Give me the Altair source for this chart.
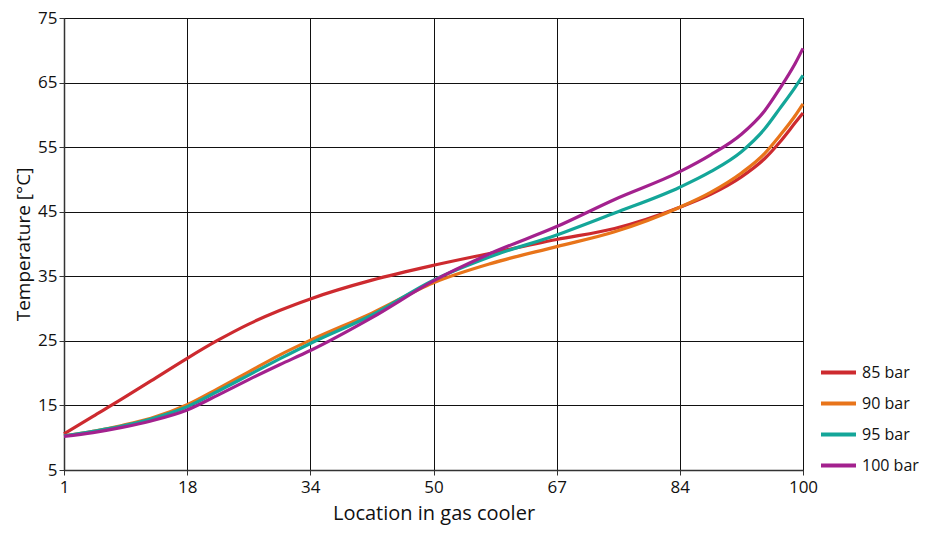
import altair as alt
import pandas as pd

locations = [1, 5, 9, 13, 18, 22, 26, 30, 34, 42, 50, 58, 67, 75, 84, 88, 92, 95, 97, 99, 100]
t85 = [10.6, 13.3, 16.0, 18.8, 22.3, 25.1, 27.6, 29.7, 31.5, 34.4, 36.7, 38.6, 40.7, 42.4, 45.7, 47.7, 50.4, 53.2, 55.8, 58.8, 60.3]
t90 = [10.3, 11.0, 11.9, 13.0, 15.1, 17.6, 20.2, 22.8, 25.1, 29.3, 34.0, 37.0, 39.6, 41.9, 45.7, 48.0, 51.0, 54.0, 56.8, 59.9, 61.7]
t95 = [10.3, 11.0, 11.8, 12.9, 14.8, 17.2, 19.7, 22.2, 24.6, 29.0, 34.4, 38.1, 41.4, 44.8, 48.8, 51.2, 54.3, 57.8, 61.0, 64.3, 66.1]
t100 = [10.2, 10.8, 11.6, 12.6, 14.3, 16.6, 19.0, 21.3, 23.5, 28.6, 34.3, 38.6, 42.7, 46.9, 51.2, 53.8, 57.0, 60.6, 64.1, 68.0, 70.3]

series_names = ["85 bar", "90 bar", "95 bar", "100 bar"]
series_values = [t85, t90, t95, t100]
colors = ["#cd2a2f", "#e8741a", "#14a699", "#a3218e"]

x_ticks = [1, 18, 34, 50, 67, 84, 100]
y_ticks = [5, 15, 25, 35, 45, 55, 65, 75]

W, H = 739, 452

rows = []
for name, vals in zip(series_names, series_values):
    for loc, v in zip(locations, vals):
        rows.append({"loc": loc, "temp": v, "series": name})
df = pd.DataFrame(rows)

x_range = [W * i / (len(x_ticks) - 1) for i in range(len(x_ticks))]

font = "Open Sans"

chart = alt.Chart(df).mark_line(strokeWidth=3.2, interpolate="monotone").encode(
    x=alt.X("loc:Q",
            scale=alt.Scale(domain=x_ticks, range=x_range, nice=False, zero=False),
            axis=alt.Axis(values=x_ticks, title="Location in gas cooler", grid=True,
                          gridColor="#111", gridWidth=1, gridOpacity=1,
                          domainColor="#333", domainWidth=1.5,
                          tickColor="#333", tickSize=5, labelFlush=False,
                          labelFontSize=17, labelColor="#111", labelPadding=4,
                          titleFontSize=20, titleFontWeight="normal", titleColor="#111",
                          titlePadding=8, labelFont=font, titleFont=font)),
    y=alt.Y("temp:Q",
            scale=alt.Scale(domain=[5, 75], nice=False, zero=False),
            axis=alt.Axis(values=y_ticks, title="Temperature [°C]", grid=True,
                          gridColor="#111", gridWidth=1, gridOpacity=1,
                          domainColor="#333", domainWidth=1.5,
                          tickColor="#333", tickSize=5, labelFlush=False,
                          labelFontSize=17, labelColor="#111", labelPadding=2,
                          titleFontSize=19, titleFontWeight="normal", titleColor="#111",
                          titlePadding=4, labelFont=font, titleFont=font)),
    color=alt.Color("series:N",
                    scale=alt.Scale(domain=series_names, range=colors),
                    legend=alt.Legend(title=None, orient="none", legendX=755, legendY=335,
                                      symbolType="stroke", symbolSize=1225,
                                      symbolStrokeWidth=4, labelFontSize=16,
                                      labelFont=font, labelColor="#111",
                                      labelOffset=4, rowPadding=3, padding=0)),
).properties(
    width=W, height=H,
    autosize=alt.AutoSizeParams(type="none"),
    padding={"left": 56, "top": 10, "right": 116, "bottom": 60},
).configure_view(stroke="#111", strokeWidth=1)

chart.save("out.html", embed_options={"renderer": "svg", "actions": False})
